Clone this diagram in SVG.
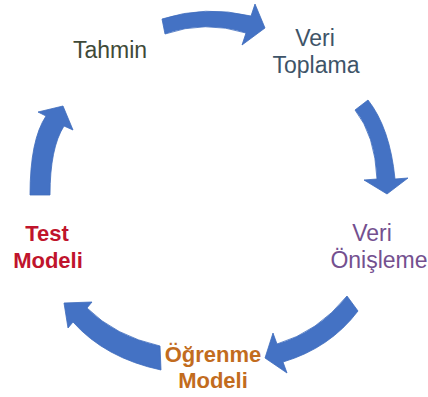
<svg xmlns="http://www.w3.org/2000/svg" width="428" height="397" viewBox="0 0 428 397">
<style>
.arrow{fill:#4472c4;stroke:#3f6cbd;stroke-width:0.8;stroke-linejoin:round}
.t{font-family:"Liberation Sans",Arial,sans-serif;font-size:23px;text-anchor:middle}
.b{font-weight:bold;font-size:22px}
</style>
<rect width="428" height="397" fill="#ffffff"/>
<g id="connectors">
<path id="a1" class="arrow" d="M162,19 Q205,5 251,16 L255,4 L265,28 L242,45 L246,33 Q205,20 165,34 Z"/>
<path id="a2" class="arrow" d="M368,100 Q390,128 395,179 L408,178 L387,194 L364,180 L377,179 Q375,135 355,110 Z"/>
<path id="a3" class="arrow" d="M347,296 L358,311 Q330,348 283,362 L287,373 L265,358 L273,333 L277,344 Q318,332 347,296 Z"/>
<path id="a4" class="arrow" d="M160,346 L161,370 Q105,358 73,322 L68,328 L64,303 L92,302 L87,308 Q115,336 160,346 Z"/>
<path id="a5" class="arrow" d="M30,195 L50,195 Q50,148 64,126 L73,130 L63,106 L38,112 L46,116 Q30,140 30,195 Z"/>
</g>
<g id="tahmin"><text class="t" x="110" y="58" fill="#3f4a38" font-size="22">Tahmin</text></g>
<g id="veri-toplama"><text class="t" fill="#3e5468"><tspan x="315" y="46">Veri</tspan><tspan x="316" y="73">Toplama</tspan></text></g>
<g id="veri-onisleme"><text class="t" fill="#74508f"><tspan x="372" y="241">Veri</tspan><tspan x="379" y="268">Önişleme</tspan></text></g>
<g id="ogrenme-modeli"><text class="t b" fill="#c26c1e"><tspan x="213" y="362">Öğrenme</tspan><tspan x="213" y="388">Modeli</tspan></text></g>
<g id="test-modeli"><text class="t b" fill="#c0142c"><tspan x="47" y="241">Test</tspan><tspan x="48" y="268">Modeli</tspan></text></g>
</svg>
